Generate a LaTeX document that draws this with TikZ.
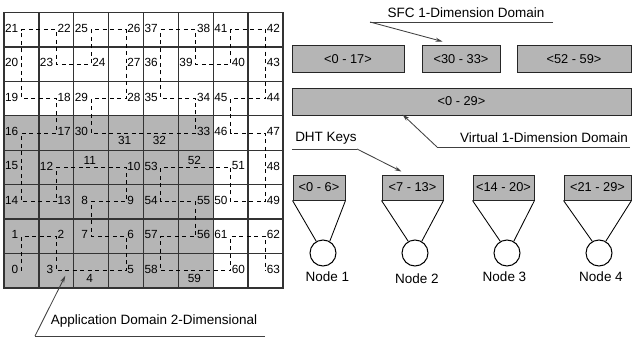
\documentclass[tikz,border=0pt]{standalone}
\usepackage{fontspec}
\setmainfont{Liberation Sans}
\usetikzlibrary{arrows.meta,calc}
\definecolor{cellgray}{gray}{0.71}
\begin{document}
\begin{tikzpicture}[x=1pt,y=-1pt,
  gridline/.style={draw=black!80, line width=1.35pt},
  hilbertpath/.style={draw=black, line width=1pt, dash pattern=on 4pt off 3.5pt},
  num/.style={font=\fontsize{11.8}{12}\selectfont, inner sep=0.5pt},
  lblL/.style={num, anchor=east, xshift=-2.5pt, yshift=1.5pt},
  lblR/.style={num, anchor=west, xshift=0.5pt, yshift=1.5pt},
  lblB/.style={num, anchor=north, xshift=-1.5pt, yshift=-3pt},
  lblA/.style={num, anchor=south, xshift=-1.5pt, yshift=2.5pt},
  rangebox/.style={draw=black!85, fill=cellgray, line width=1pt,
    font=\fontsize{12.8}{13}\selectfont, inner sep=0pt},
  capt/.style={font=\fontsize{13.5}{14}\selectfont, inner sep=0pt},
  leaderline/.style={draw=black!75, line width=0.85pt},
  pointarrow/.style={leaderline, -{Stealth[length=7pt,width=4pt]}},
  peer/.style={circle, draw=black, line width=1pt, minimum size=26pt, inner sep=0pt},
  spoke/.style={draw=black, line width=0.85pt},
]
\useasboundingbox (0,0) rectangle (634,337);

% shaded sub-region of the 8x8 domain
\fill[cellgray] (4,{12.5+34.4375*3}) rectangle ({4+34.875*6},288);

% grid
\foreach \i in {1,...,7} {
  \draw[gridline] ({4+34.875*\i},12.5) -- ({4+34.875*\i},288);
  \draw[gridline] (4,{12.5+34.4375*\i}) -- (283,{12.5+34.4375*\i});
}
\draw[gridline] (4,12.5) rectangle (283,288);

% Hilbert curve cells: index / column / row / label side
\def\cells{0/0/0/L,1/0/1/L,2/1/1/R,3/1/0/L,4/2/0/B,5/3/0/R,6/3/1/R,7/2/1/L,
  8/2/2/L,9/3/2/R,10/3/3/R,11/2/3/A,12/1/3/L,13/1/2/R,14/0/2/L,15/0/3/L,
  16/0/4/L,17/1/4/R,18/1/5/R,19/0/5/L,20/0/6/L,21/0/7/L,22/1/7/R,23/1/6/L,
  24/2/6/R,25/2/7/L,26/3/7/R,27/3/6/R,28/3/5/R,29/2/5/L,30/2/4/L,31/3/4/B,
  32/4/4/B,33/5/4/R,34/5/5/R,35/4/5/L,36/4/6/L,37/4/7/L,38/5/7/R,39/5/6/L,
  40/6/6/R,41/6/7/L,42/7/7/R,43/7/6/R,44/7/5/R,45/6/5/L,46/6/4/L,47/7/4/R,
  48/7/3/R,49/7/2/R,50/6/2/L,51/6/3/R,52/5/3/A,53/4/3/L,54/4/2/L,55/5/2/R,
  56/5/1/R,57/4/1/L,58/4/0/L,59/5/0/B,60/6/0/R,61/6/1/L,62/7/1/R,63/7/0/R}
\foreach \n/\c/\r/\d in \cells {
  \coordinate (v\n) at ({4+34.875*(\c+0.5)},{12.5+34.4375*(7.5-\r)});
}
\draw[hilbertpath] (v0) \foreach \i in {1,...,63} { -- (v\i) };
\foreach \n/\c/\r/\d in \cells {
  \node[lbl\d] (n\n) at (v\n) {\n};
}

% SFC ranges
\node[rangebox, minimum width=112pt, minimum height=26pt] (r017) at (348,59) {<0 - 17>};
\node[rangebox, minimum width=78pt, minimum height=26pt] (r3033) at (461,59) {<30 - 33>};
\node[rangebox, minimum width=114pt, minimum height=26pt] (r5259) at (574,59) {<52 - 59>};
\node[rangebox, minimum width=339pt, minimum height=27pt] (r029) at (461.5,101.5) {<0 - 29>};

% DHT key ranges
\node[rangebox, minimum width=52pt, minimum height=25pt] (k1) at (319,187.5) {<0 - 6>};
\node[rangebox, minimum width=61pt, minimum height=25pt] (k2) at (412.5,187.5) {<7 - 13>};
\node[rangebox, minimum width=61pt, minimum height=25pt] (k3) at (503.5,187.5) {<14 - 20>};
\node[rangebox, minimum width=67pt, minimum height=25pt] (k4) at (597.5,187.5) {<21 - 29>};

% peers
\node[peer] (p1) at (323,253) {};
\node[peer] (p2) at (415,253) {};
\node[peer] (p3) at (507,253) {};
\node[peer] (p4) at (599,253) {};
\foreach \i in {1,...,4} {
  \draw[spoke] (k\i.south west) -- (p\i.120);
  \draw[spoke] (k\i.south east) -- (p\i.60);
}
\node[capt] (t1) at (327.5,277) {Node 1};
\node[capt] (t2) at (417,279) {Node 2};
\node[capt] (t3) at (504.5,277) {Node 3};
\node[capt] (t4) at (601,277) {Node 4};

% annotations
\node[capt] (sfc) at (466,13) {SFC 1-Dimension Domain};
\coordinate (sfcL) at (370,22);
\coordinate (sfcR) at (553,22);
\draw[leaderline] (sfcR) -- (sfcL);
\draw[pointarrow] (sfcL) -- ($(r3033.north west)+(21,-4)$);

\node[capt] (virt) at (544,138) {Virtual 1-Dimension Domain};
\coordinate (virtL) at (437,147);
\coordinate (virtR) at (630,147);
\draw[leaderline] (virtR) -- (virtL);
\draw[pointarrow] (virtL) -- ($(r029.south west)+(111,-1)$);

\node[capt] (dht) at (326,138) {DHT Keys};
\coordinate (dhtL) at (292,149);
\coordinate (dhtR) at (357,149);
\draw[leaderline] (dhtL) -- (dhtR);
\draw[pointarrow] (dhtR) -- ($(k2.north west)+(20,-3)$);

\node[capt] (app) at (154,321) {Application Domain 2-Dimensional};
\coordinate (appL) at (35,336);
\coordinate (appR) at (265,336);
\draw[leaderline] (appR) -- (appL);
\draw[pointarrow] (appL) -- ($(v3)+(9,5)$);
\end{tikzpicture}
\end{document}
